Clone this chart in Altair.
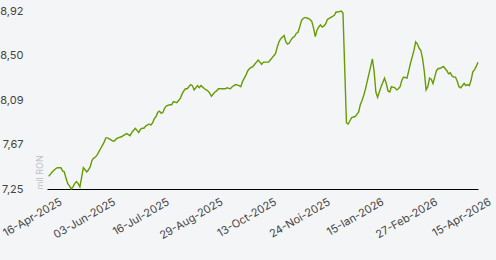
import altair as alt
import pandas as pd

# trading-day index and value (mil RON)
day_idx = [0, 1, 2, 4, 5, 6, 7, 8, 9, 10, 11, 12, 13, 14, 15, 16, 17, 18, 19, 20,
           21, 22, 23, 24, 25, 26, 27, 28, 29, 30, 31, 32, 33, 34, 36, 37, 38, 39, 40, 42,
           43, 45, 46, 47, 48, 50, 51, 52, 53, 54, 55, 56, 58, 59, 60, 61, 62, 63, 64, 65,
           66, 67, 68, 70, 71, 72, 74, 75, 76, 77, 78, 79, 80, 82, 83, 84, 85, 86, 87, 88,
           90, 91, 92, 93, 94, 96, 97, 98, 100, 102, 103, 105, 106, 107, 108, 110, 111, 112, 113, 114,
           115, 116, 118, 119, 120, 121, 122, 123, 124, 126, 127, 128, 129, 130, 131, 132, 133, 134, 136, 137,
           138, 139, 140, 141, 142, 143, 144, 145, 146, 147, 148, 150, 151, 152, 153, 154, 155, 156, 157, 158,
           159, 160, 161, 162, 163, 165, 166, 167, 169, 170, 171, 172, 173, 174, 175, 177, 178, 179, 180, 181,
           182, 183, 184, 185, 186, 187, 188, 189, 190, 191, 192, 193, 194, 195, 196, 197, 198, 200, 201, 202,
           203, 204, 205, 207, 208, 209, 210, 211, 212, 213, 214, 215, 216, 217, 218, 219, 220, 221, 222, 223,
           224, 225, 226, 228, 229, 230, 231, 232, 233, 234, 235, 236, 237, 238, 240, 241, 242, 243, 244, 245,
           246, 247, 248]
values = [7.37, 7.39, 7.41, 7.44, 7.45, 7.45, 7.45, 7.42, 7.41, 7.35, 7.30, 7.28, 7.25, 7.27, 7.30, 7.32, 7.30, 7.27, 7.36, 7.45,
          7.43, 7.41, 7.43, 7.46, 7.52, 7.54, 7.55, 7.57, 7.60, 7.63, 7.66, 7.69, 7.73, 7.73, 7.71, 7.70, 7.70, 7.72, 7.73, 7.74,
          7.75, 7.77, 7.76, 7.75, 7.78, 7.82, 7.80, 7.78, 7.81, 7.82, 7.82, 7.84, 7.86, 7.85, 7.87, 7.91, 7.93, 7.97, 7.98, 7.96,
          7.97, 8.01, 8.03, 8.04, 8.04, 8.07, 8.06, 8.08, 8.10, 8.14, 8.17, 8.19, 8.19, 8.23, 8.22, 8.18, 8.20, 8.22, 8.20, 8.22,
          8.19, 8.18, 8.17, 8.15, 8.12, 8.16, 8.17, 8.19, 8.19, 8.19, 8.20, 8.19, 8.21, 8.22, 8.23, 8.22, 8.21, 8.26, 8.29, 8.32,
          8.36, 8.38, 8.40, 8.42, 8.44, 8.46, 8.44, 8.42, 8.44, 8.44, 8.44, 8.46, 8.48, 8.50, 8.52, 8.58, 8.63, 8.66, 8.69, 8.63,
          8.61, 8.62, 8.65, 8.67, 8.68, 8.71, 8.72, 8.77, 8.83, 8.85, 8.86, 8.85, 8.84, 8.82, 8.76, 8.68, 8.74, 8.77, 8.79, 8.77,
          8.78, 8.80, 8.84, 8.85, 8.86, 8.88, 8.91, 8.91, 8.92, 8.90, 8.38, 7.87, 7.86, 7.89, 7.92, 7.93, 7.95, 7.97, 8.04, 8.08,
          8.13, 8.19, 8.26, 8.33, 8.40, 8.47, 8.35, 8.16, 8.11, 8.16, 8.21, 8.25, 8.29, 8.24, 8.17, 8.16, 8.21, 8.20, 8.18, 8.19,
          8.21, 8.27, 8.30, 8.29, 8.36, 8.43, 8.49, 8.55, 8.63, 8.61, 8.57, 8.55, 8.47, 8.35, 8.18, 8.21, 8.29, 8.28, 8.24, 8.30,
          8.36, 8.38, 8.38, 8.40, 8.38, 8.36, 8.33, 8.34, 8.31, 8.30, 8.30, 8.26, 8.21, 8.20, 8.24, 8.22, 8.23, 8.22, 8.27, 8.35,
          8.37, 8.40, 8.44]

x_tick_idx = [0, 31, 62, 93, 124, 155, 186, 217, 248]
x_tick_labels = ["16-Apr-2025", "03-Jun-2025", "16-Jul-2025", "29-Aug-2025", "13-Oct-2025",
                 "24-Noi-2025", "15-Ian-2026", "27-Feb-2026", "15-Apr-2026"]

df = pd.DataFrame({"idx": day_idx, "val": values})

ymin, ymax = min(values), max(values)
y_ticks = [ymin + k * (ymax - ymin) / 4 for k in range(5)]

label_map = "{" + ", ".join(f"'{i}': '{l}'" for i, l in zip(x_tick_idx, x_tick_labels)) + "}"
x_label_expr = f"{label_map}[''+datum.value]"

FONT = "Inter"

chart = alt.Chart(df).mark_line(color="#669c00", strokeWidth=1.4, interpolate="linear").encode(
    x=alt.X("idx:Q",
            scale=alt.Scale(domain=[-1, 248], nice=False, zero=False),
            axis=alt.Axis(values=x_tick_idx, labelExpr=x_label_expr, title=None,
                          grid=False, ticks=False, tickSize=0,
                          domain=True, domainColor="#000000", domainWidth=1.2,
                          labelAngle=330, labelAlign="right", labelBaseline="middle",
                          labelOffset=12, labelPadding=12,
                          labelFont=FONT, labelFontSize=11, labelColor="#444444",
                          labelOverlap=False, labelBound=False, labelFlush=False)),
    y=alt.Y("val:Q",
            scale=alt.Scale(domain=[ymin, ymax], nice=False, zero=False),
            axis=alt.Axis(values=y_ticks,
                          labelExpr="replace(format(datum.value + 0.0001, '.2f'), '.', ',')",
                          grid=False, ticks=False, tickSize=0, domain=False,
                          labelPadding=24, labelFont=FONT, labelFontSize=11, labelColor="#444444",
                          title="mil RON", titleFont=FONT, titleFontSize=9, titleFontWeight="normal",
                          titleColor="#c0c0c0", titleAngle=-90, titleAlign="left",
                          titleBaseline="alphabetic", titleX=-5, titleY=178)),
).properties(
    width=431, height=178,
    autosize=alt.AutoSizeParams(type="none"),
    padding={"left": 47, "top": 11, "right": 18, "bottom": 71},
    background="#f4f5f7",
).configure_view(stroke=None)

chart.save("out.html", embed_options={"renderer": "svg", "actions": False})
